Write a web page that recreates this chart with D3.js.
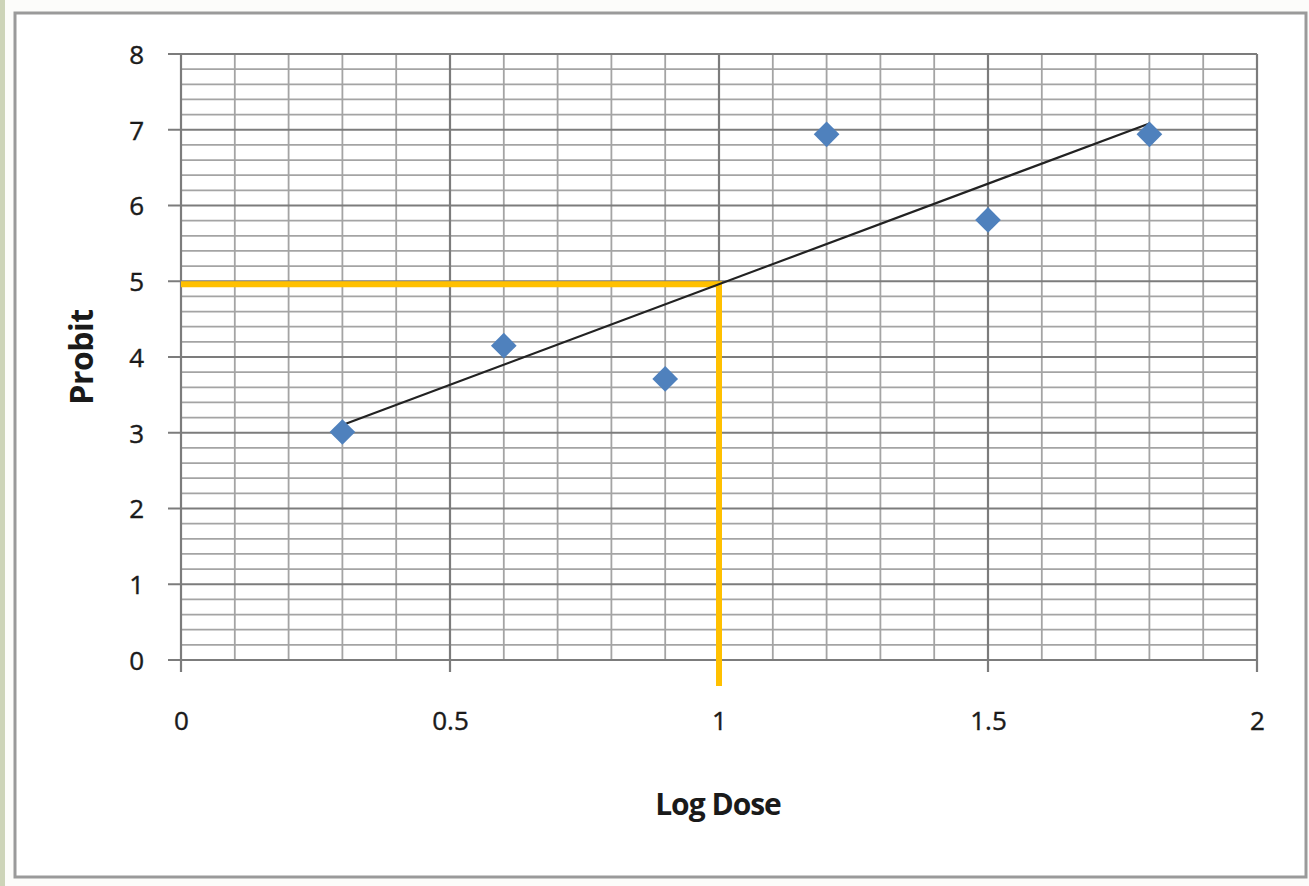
<!DOCTYPE html>
<html>
<head>
<meta charset="utf-8">
<script src="https://cdn.jsdelivr.net/npm/d3@7"></script>
<style>
	body { margin: 0; background: #fcfcfa; }
	svg { display: block; }
	text { font-family: "Open Sans", "Noto Sans", sans-serif; fill: #1a1a1a; }
</style>
</head>
<body>
<div id="chart"></div>
<script>
// data
const logDose = [0.3, 0.6, 0.9, 1.2, 1.5, 1.8];
const probit = [3.01, 4.15, 3.71, 6.94, 5.81, 6.94];
const xTicks = [0, 0.5, 1, 1.5, 2];
const yTicks = [0, 1, 2, 3, 4, 5, 6, 7, 8];
const ld50 = [1, 4.96];   // orange guide point

const params = {
	width: 1309, height: 886,
	left: 181, right: 1257, top: 54, bottom: 660
};

const makeContainer = (params) => {
	const svg = d3.select("#chart")
		.append("svg")
		.attr("width", params.width)
		.attr("height", params.height)

	// slide background strip + frame
	svg.append("rect").attr("x", 0).attr("y", 0).attr("width", 5).attr("height", params.height).attr("fill", "#cdd4b8")
	svg.append("rect")
		.attr("x", 15).attr("y", 13)
		.attr("width", 1291).attr("height", 864)
		.attr("fill", "#fff")
		.attr("stroke", "#9a9a9a")
		.attr("stroke-width", 3)
	return svg;
}

const makeScales = (params) => {
	const xScale = d3.scaleLinear().domain([0, 2]).range([params.left, params.right])
	const yScale = d3.scaleLinear().domain([0, 8]).range([params.bottom, params.top])
	return [xScale, yScale];
}

const addGrid = (svg, xScale, yScale, params) => {
	const xMinor = d3.range(0, 2.0001, 0.1).map(d => +d.toFixed(1))
	const yMinor = d3.range(0, 8.0001, 0.2).map(d => +d.toFixed(1))

	svg.append("g")
		.attr("stroke", "#a4a4a4")
		.attr("stroke-width", 1.8)
		.call(g => g.selectAll("line.v")
			.data(xMinor.filter(d => !xTicks.includes(d)))
			.join("line")
			.attr("x1", d => xScale(d)).attr("x2", d => xScale(d))
			.attr("y1", params.top).attr("y2", params.bottom))
		.call(g => g.selectAll("line.h")
			.data(yMinor.filter(d => !yTicks.includes(d)))
			.join("line")
			.attr("y1", d => yScale(d)).attr("y2", d => yScale(d))
			.attr("x1", params.left).attr("x2", params.right))

	svg.append("g")
		.attr("stroke", "#7c7c7c")
		.attr("stroke-width", 2.2)
		.call(g => g.selectAll("line.v")
			.data(xTicks)
			.join("line")
			.attr("x1", d => xScale(d)).attr("x2", d => xScale(d))
			.attr("y1", params.top).attr("y2", params.bottom + 12))
		.call(g => g.selectAll("line.h")
			.data(yTicks)
			.join("line")
			.attr("y1", d => yScale(d)).attr("y2", d => yScale(d))
			.attr("x1", params.left - 13).attr("x2", params.right))
}

const addAxes = (svg, xScale, yScale, params) => {
	const xAxis = svg.append("g")
		.attr("transform", `translate(0, ${params.bottom})`)
		.call(d3.axisBottom(xScale).tickValues(xTicks).tickSize(0).tickPadding(52).tickFormat(d3.format("")))
	const yAxis = svg.append("g")
		.attr("transform", `translate(${params.left}, 0)`)
		.call(d3.axisLeft(yScale).tickValues(yTicks).tickSize(0).tickPadding(37))

	for (const ax of [xAxis, yAxis]) {
		ax.select(".domain").remove()
		ax.selectAll("text")
			.attr("font-size", "26px")
			.attr("font-family", "'Open Sans', sans-serif")
			.attr("fill", "#1a1a1a")
			.attr("stroke", "#1a1a1a")
			.attr("stroke-width", 0.4)
	}
	yAxis.selectAll("text").attr("dy", "0.36em")

	svg.append("text")
		.attr("x", 718)
		.attr("y", 815)
		.attr("text-anchor", "middle")
		.attr("font-size", "30px")
		.attr("font-weight", "bold")
		.attr("letter-spacing", "-1")
		.text("Log Dose")

	svg.append("text")
		.attr("transform", `translate(93, ${(params.top + params.bottom) / 2}) rotate(-90)`)
		.attr("text-anchor", "middle")
		.attr("font-size", "32px")
		.attr("font-weight", "bold")
		.attr("letter-spacing", "-0.5")
		.text("Probit")
}

const addMarks = (svg, xScale, yScale) => {
	// least-squares trend line through the points
	const xm = d3.mean(logDose), ym = d3.mean(probit)
	const slope = d3.sum(logDose, (x, i) => (x - xm) * (probit[i] - ym)) / d3.sum(logDose, x => (x - xm) ** 2)
	const fit = x => ym + slope * (x - xm)
	const ends = [d3.min(logDose), d3.max(logDose)]

	// orange guides
	svg.append("path")
		.attr("fill", "none")
		.attr("stroke", "#ffc000")
		.attr("stroke-width", 6)
		.attr("d", d3.line()([
			[xScale(0), yScale(ld50[1])],
			[xScale(ld50[0]), yScale(ld50[1])],
			[xScale(ld50[0]), 686]
		]))

	svg.append("line")
		.attr("x1", xScale(ends[0])).attr("y1", yScale(fit(ends[0])))
		.attr("x2", xScale(ends[1])).attr("y2", yScale(fit(ends[1])))
		.attr("stroke", "#222")
		.attr("stroke-width", 2.2)

	svg.append("g")
		.selectAll("path")
		.data(logDose)
		.join("path")
		.attr("transform", (d, i) => `translate(${xScale(d)}, ${yScale(probit[i])}) rotate(45)`)
		.attr("d", d3.symbol(d3.symbolSquare, 330)())
		.attr("fill", "#4f81bd")
}

const main = () => {
	const svg = makeContainer(params)
	const [xScale, yScale] = makeScales(params)
	addGrid(svg, xScale, yScale, params)
	addAxes(svg, xScale, yScale, params)
	addMarks(svg, xScale, yScale)
}

main()
</script>
</body>
</html>
